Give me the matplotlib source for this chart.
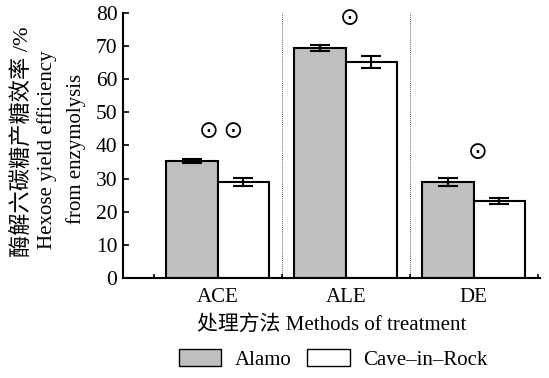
import matplotlib.pyplot as plt
import numpy as np
from matplotlib.patches import Patch

plt.rcParams['font.family'] = ['Liberation Serif', 'Noto Sans CJK SC', 'DejaVu Sans']

methods = ['ACE', 'ALE', 'DE']
alamo = [35.3, 69.4, 29.0]
alamo_err = [0.5, 1.0, 1.3]
cave = [29.0, 65.2, 23.3]
cave_err = [1.3, 1.7, 0.9]
marks = ['⊙\u2009⊙', '⊙', '⊙']

x = np.arange(len(methods))
w = 0.4

fig = plt.figure(figsize=(5.49, 3.78), dpi=100)
ax = fig.add_axes([0.224, 0.2646, 0.76, 0.701])

ax.bar(x - w / 2, alamo, w, color='#c0c0c0', edgecolor='black', linewidth=1.5, zorder=2)
ax.bar(x + w / 2, cave, w, color='white', edgecolor='black', linewidth=1.5, zorder=2)
ax.errorbar(x - w / 2, alamo, yerr=alamo_err, fmt='none', ecolor='black',
            elinewidth=1.5, capsize=7, capthick=1.5, zorder=3)
ax.errorbar(x + w / 2, cave, yerr=cave_err, fmt='none', ecolor='black',
            elinewidth=1.5, capsize=7, capthick=1.5, zorder=3)

for i in range(len(methods)):
    ax.text(x[i] + 0.03, alamo[i] + 9, marks[i], ha='center', va='center', fontsize=17,
            family='DejaVu Sans')

for xv in [0.5, 1.5]:
    ax.plot([xv, xv], [0, 80], color='#666666', lw=0.7, ls=(0, (1, 1)), zorder=1)

ax.set_xlim(-0.74, 2.52)
ax.set_ylim(0, 80)
ax.set_yticks(np.arange(0, 81, 10))
ax.set_xticks(x)
ax.set_xticklabels(methods)
ax.set_xticks([-0.5, 0.5, 1.5, 2.5], minor=True)
ax.tick_params(axis='x', which='major', length=0, labelsize=15, pad=7)
ax.tick_params(axis='x', which='minor', direction='in', length=3, width=1.2)
ax.tick_params(axis='y', direction='in', length=4, width=1.2, labelsize=15.5, pad=4)

for s in ['top', 'right']:
    ax.spines[s].set_visible(False)
ax.spines['left'].set_linewidth(1.5)
ax.spines['bottom'].set_linewidth(1.5)

ax.set_xlabel('处理方法 Methods of treatment', fontsize=15, labelpad=6)
fig.text(0.041, 0.625, '酶解六碳糖产糖效率 /%', rotation=90, ha='center', va='center', fontsize=16)
fig.text(0.086, 0.603, 'Hexose yield efficiency', rotation=90, ha='center', va='center', fontsize=15)
fig.text(0.138, 0.607, 'from enzymolysis', rotation=90, ha='center', va='center', fontsize=15)

handles = [Patch(facecolor='#c0c0c0', edgecolor='black', lw=1.0, label='Alamo'),
           Patch(facecolor='white', edgecolor='black', lw=1.0, label='Cave–in–Rock')]
fig.legend(handles=handles, loc='center', bbox_to_anchor=(0.607, 0.05), ncol=2,
           frameon=False, fontsize=15, handlelength=2.05, handleheight=0.9,
           columnspacing=0.75, handletextpad=0.65)

fig.savefig('out.png', dpi=100)
